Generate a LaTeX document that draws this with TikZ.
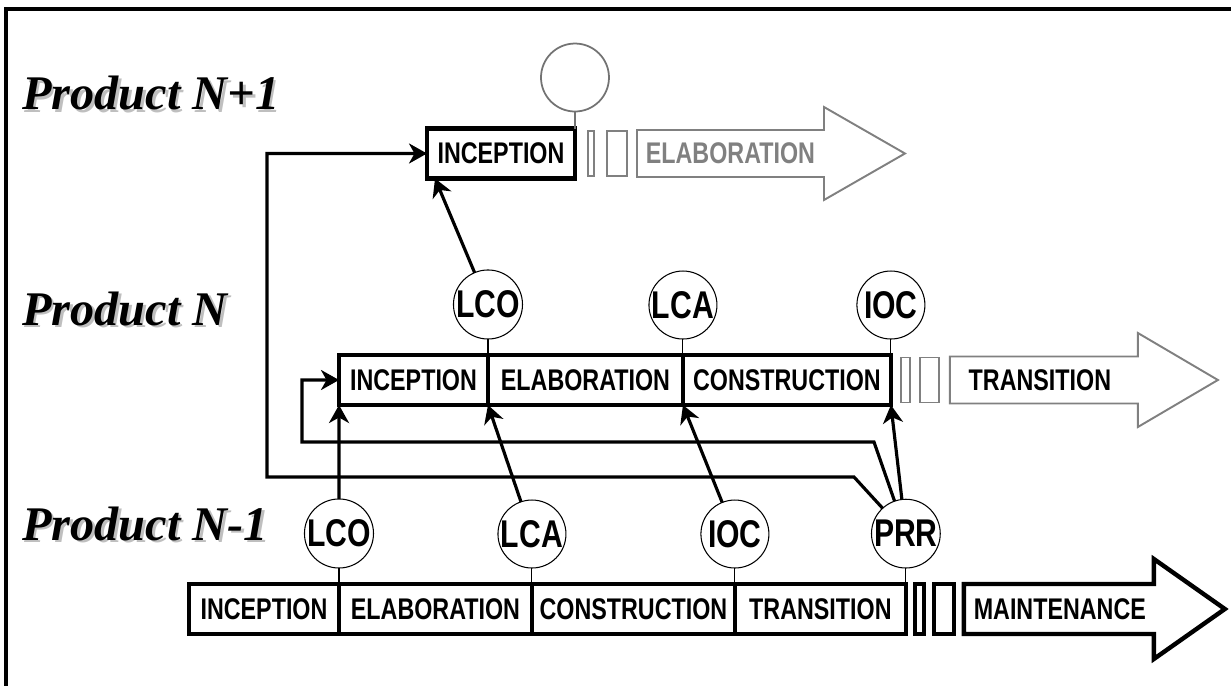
\documentclass[tikz,border=0pt]{standalone}
\usepackage{fontspec}
\setmainfont{Liberation Serif}
\newfontfamily\phasefont[FakeStretch=0.78]{Liberation Sans}
\usepackage{tikz}
\usetikzlibrary{positioning}
\usetikzlibrary{arrows.meta}

\tikzset{
  phase/.style={draw, line width=2.5pt, minimum height=1.0cm, inner sep=0pt, outer sep=0pt,
    font=\phasefont\bfseries\fontsize{17}{17}\selectfont},
  milestone/.style={draw, circle, line width=0.6pt, minimum size=1.36cm, inner sep=0pt, outer sep=0pt,
    font=\phasefont\bfseries\fontsize{22}{22}\selectfont},
  gapbox/.style={draw, inner sep=0pt, outer sep=0pt, minimum height=0.9cm},
  stem/.style={line width=0.6pt},
  link/.style={line width=1.8pt, -{Stealth[length=0.36cm, width=0.4cm, inset=0.11cm]}},
  futureline/.style={draw=black!50, line width=1.1pt},
  product/.style={font=\bfseries\itshape\fontsize{27.5}{27.5}\selectfont, anchor=base west, inner sep=0pt},
  shadowtext/.style={product, text=black!25},
}

\begin{document}
\begin{tikzpicture}[x=0.02cm, y=-0.02cm]
    \useasboundingbox (0,0) rectangle (1231,686);
    \draw[line width=1.8pt] (6,686) -- (6,9) -- (1231,9);

    % product labels
    \node[shadowtext] (nextshadow) at (24.5,112.5) {Product N+1};
    \node[product] (nextlabel) at (22,110) {Product N+1};
    \node[shadowtext] (currshadow) at (24.5,327.5) {Product N};
    \node[product] (currlabel) at (22,325) {Product N};
    \node[shadowtext] (prevshadow) at (24.5,542.5) {Product N-1};
    \node[product] (prevlabel) at (22,540) {Product N-1};

    % product N+1
    \node[phase, minimum width=2.96cm] (incC) at (501,153.5) {INCEPTION};
    \node[milestone, draw=black!55, line width=1pt, above=0.34cm of incC.north east] (mileC) {};
    \draw[stem, black!55] (mileC) -- (incC.north east);
    \node[gapbox, futureline, minimum width=0.12cm, right=0.26cm of incC] (gapCa) {};
    \node[gapbox, futureline, minimum width=0.4cm, right=0.26cm of gapCa] (gapCb) {};
    \coordinate[right=0.2cm of gapCb] (arrC);
    \draw[futureline] (arrC) ++(0,-23.5) -- ++(187,0) -- ++(0,-23) -- ++(81,46.5)
        -- ++(-81,46.5) -- ++(0,-23) -- ++(-187,0) -- cycle;
    \node[phase, draw=none, text=black!50] (elaC) at ([xshift=1.87cm]arrC) {ELABORATION};

    % product N
    \node[phase, minimum width=2.98cm] (incN) at (413.5,380) {INCEPTION};
    \node[phase, minimum width=3.9cm, right=0pt of incN] (elaN) {ELABORATION};
    \node[phase, minimum width=4.16cm, right=0pt of elaN] (conN) {CONSTRUCTION};
    \node[milestone, above=0.32cm of incN.north east] (lcoN) {LCO};
    \node[milestone, above=0.32cm of elaN.north east] (lcaN) {LCA};
    \node[milestone, above=0.32cm of conN.north east] (iocN) {IOC};
    \draw[stem] (lcoN) -- (incN.north east);
    \draw[stem] (lcaN) -- (elaN.north east);
    \draw[stem] (iocN) -- (conN.north east);
    \node[gapbox, futureline, minimum width=0.18cm, right=0.2cm of conN] (gapNa) {};
    \node[gapbox, futureline, minimum width=0.38cm, right=0.2cm of gapNa] (gapNb) {};
    \coordinate[right=0.22cm of gapNb] (arrN);
    \draw[futureline] (arrN) ++(0,-23.5) -- ++(188,0) -- ++(0,-23.5) -- ++(80,47)
        -- ++(-80,47) -- ++(0,-23.5) -- ++(-188,0) -- cycle;
    \node[phase, draw=none] (traN) at ([xshift=1.8cm]arrN) {TRANSITION};

    % product N-1
    \node[phase, minimum width=3.0cm] (incL) at (264,609) {INCEPTION};
    \node[phase, minimum width=3.86cm, right=0pt of incL] (elaL) {ELABORATION};
    \node[phase, minimum width=4.06cm, right=0pt of elaL] (conL) {CONSTRUCTION};
    \node[phase, minimum width=3.42cm, right=0pt of conL] (traL) {TRANSITION};
    \node[milestone, above=0.32cm of incL.north east] (lcoL) {LCO};
    \node[milestone, above=0.32cm of elaL.north east] (lcaL) {LCA};
    \node[milestone, above=0.32cm of conL.north east] (iocL) {IOC};
    \node[milestone, above=0.32cm of traL.north east] (prrL) {PRR};
    \draw[stem] (lcoL) -- (incL.north east);
    \draw[stem] (lcaL) -- (elaL.north east);
    \draw[stem] (iocL) -- (conL.north east);
    \draw[stem] (prrL) -- (traL.north east);
    \node[gapbox, line width=2.5pt, minimum height=1.0cm, minimum width=0.18cm, right=0.18cm of traL] (gapLa) {};
    \node[gapbox, line width=2.5pt, minimum height=1.0cm, minimum width=0.4cm, right=0.2cm of gapLa] (gapLb) {};
    \coordinate[right=0.2cm of gapLb] (arrL);
    \draw[line width=2.5pt] (arrL) ++(0,-25) -- ++(190,0) -- ++(0,-25) -- ++(71,50)
        -- ++(-71,50) -- ++(0,-25) -- ++(-190,0) -- cycle;
    \node[phase, draw=none] (maiL) at ([xshift=1.92cm]arrL) {MAINTENANCE};

    % milestones feeding the next product
    \draw[link] (lcoL) -- (incN.south west);
    \draw[link] (lcaL) -- (elaN.south west);
    \draw[link] (iocL) -- (conN.south west);
    \draw[link] (prrL) -- (conN.south east);
    \draw[link] (lcoN) -- ([xshift=0.16cm]incC.south west);
    \draw[link] (prrL) -- (874,442) -- (302,442) |- (incN.west);
    \draw[link] (prrL) -- (854,477) -- (267,477) |- (incC.west);
\end{tikzpicture}
\end{document}
